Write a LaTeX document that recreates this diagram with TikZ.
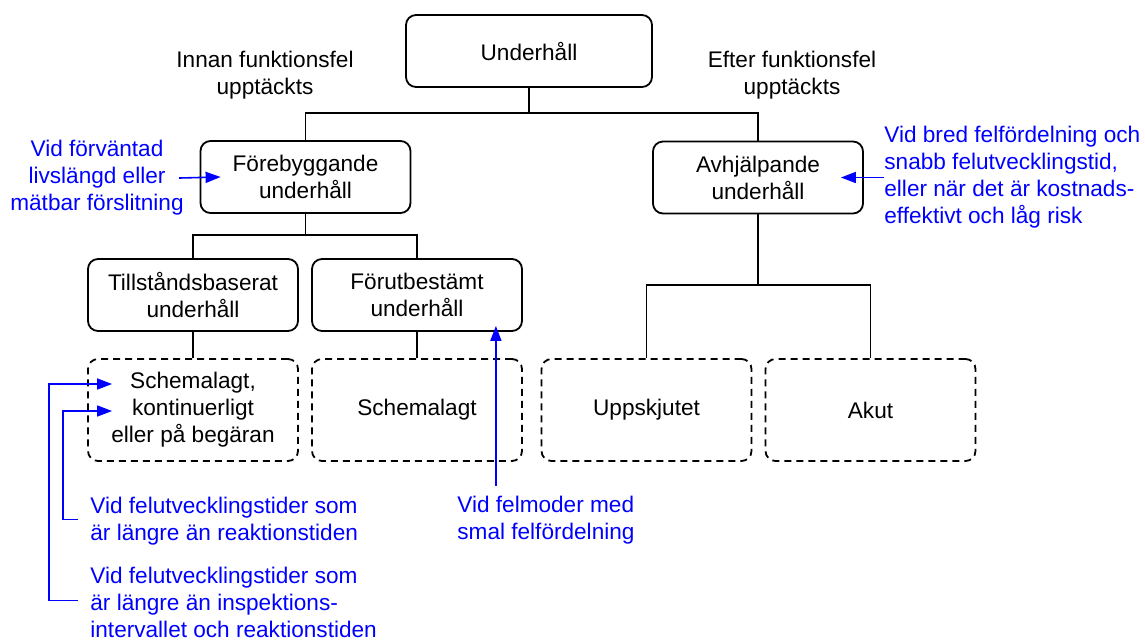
\documentclass[tikz,border=0pt]{standalone}
\usepackage{fontspec}
\setmainfont{Liberation Sans}
\usepackage{tikz}
\usetikzlibrary{arrows.meta, calc}
\definecolor{note_blue}{HTML}{0000FF}
\definecolor{box_black}{HTML}{000000}

\begin{document}
\begin{tikzpicture}[
    x=0.5pt, y=-0.5pt,  % one unit = one pixel of the sketch, y grows downwards
    font=\fontsize{11.3}{13.5}\selectfont,
    box/.style={draw=box_black, line width=0.9pt, rounded corners=5pt,
        align=center, minimum width=105pt, minimum height=36pt, inner sep=2pt},
    planbox/.style={box, dash pattern=on 3.5pt off 2.5pt, minimum height=51pt},
    tree/.style={draw=box_black, line width=0.9pt},
    note/.style={text=note_blue, inner sep=0pt},
    hint/.style={-{Triangle[length=7.5pt,width=5.5pt]}, note_blue, line width=0.8pt},
]
\useasboundingbox (0,0) rectangle (1145,639);

% ── Maintenance tree ─────────────────────────────────────────────────────────
\node[box, minimum width=123pt] (top) at (529,51) {Underhåll};
\node[box] (fore)  at (305.5,177) {Förebyggande\\underhåll};
\node[box] (avh)   at (758,177.5) {Avhjälpande\\underhåll};
\node[box] (tills) at (193,295)   {Tillståndsbaserat\\underhåll};
\node[box] (forut) at (417,295)   {Förutbestämt\\underhåll};

% Dashed leaves: how the work is carried out
\node[planbox] (sched1) at (193,410)   {Schemalagt,\\kontinuerligt\\eller på begäran};
\node[planbox] (sched2) at (417,410)   {Schemalagt};
\node[planbox] (upps)   at (646.5,410) {Uppskjutet};
\node[planbox] (akut)   at (870.5,410) {Akut};

% ── Branch captions ──────────────────────────────────────────────────────────
\node[align=center] (before) at (265,75) {Innan funktionsfel\\upptäckts};
\node[align=center] (after)  at (792,75) {Efter funktionsfel\\upptäckts};

% ── Tree connectors ──────────────────────────────────────────────────────────
\draw[tree] (top.south) |- ($(fore.north)+(0,-27)$) -- (fore.north);
\draw[tree] (top.south) |- ($(avh.north)+(0,-28)$) -- (avh.north);
\draw[tree] (fore.south) |- ($(tills.north)+(0,-23)$) -- (tills.north);
\draw[tree] (fore.south) |- ($(forut.north)+(0,-23)$) -- (forut.north);
\draw[tree] (tills.south) -- (sched1.north);
\draw[tree] (forut.south) -- (sched2.north);
\draw[tree] (avh.south) |- ($(upps.north)+(0,-73)$) -- (upps.north);
\draw[tree] (avh.south) |- ($(akut.north)+(0,-73)$) -- (akut.north);

% ── Blue notes: when each strategy applies ───────────────────────────────────
\node[note, align=center] (notefore) at (97,178)
    {Vid förväntad\\livslängd eller\\mätbar förslitning};
\node[note, align=left, anchor=west] (noteavh) at (884,177.5)
    {Vid bred felfördelning och\\snabb felutvecklingstid,\\eller när det är kostnads-\\effektivt och låg risk};
\node[note, align=left, anchor=west] (notereact) at (90,521)
    {Vid felutvecklingstider som\\är längre än reaktionstiden};
\node[note, align=left, anchor=west] (noteinsp) at (90,602)
    {Vid felutvecklingstider som\\är längre än inspektions-\\intervallet och reaktionstiden};
\node[note, align=left, anchor=west] (notenarrow) at (457,520)
    {Vid felmoder med\\smal felfördelning};

% Arrow tips sit just inside the boxes, next to their text
\coordinate (foretip)    at ($(fore.west)+(21,0)$);
\coordinate (avhtip)     at ($(avh.east)+(-23,0)$);
\coordinate (forutip)    at ($(forut.south east)+(-27,-6)$);
\coordinate (schedtipA)  at ($(sched1.west)+(25,-26)$);
\coordinate (schedtipB)  at ($(sched1.west)+(25,1)$);
\coordinate (narrowbase) at (forutip |- notenarrow.north);

\draw[hint] ($(notefore.east)+(-5,0)$) -- (foretip);
\draw[hint] (noteavh.west) -- (avhtip);
\draw[hint] ($(notereact.west)+(-12,-1.5)$) -- ++(-15,0) |- (schedtipB);
\draw[hint] ($(noteinsp.west)+(-12,-1.5)$) -- ++(-29,0) |- (schedtipA);
\draw[hint] ($(narrowbase)+(0,-10)$) -- (forutip);

\end{tikzpicture}
\end{document}
